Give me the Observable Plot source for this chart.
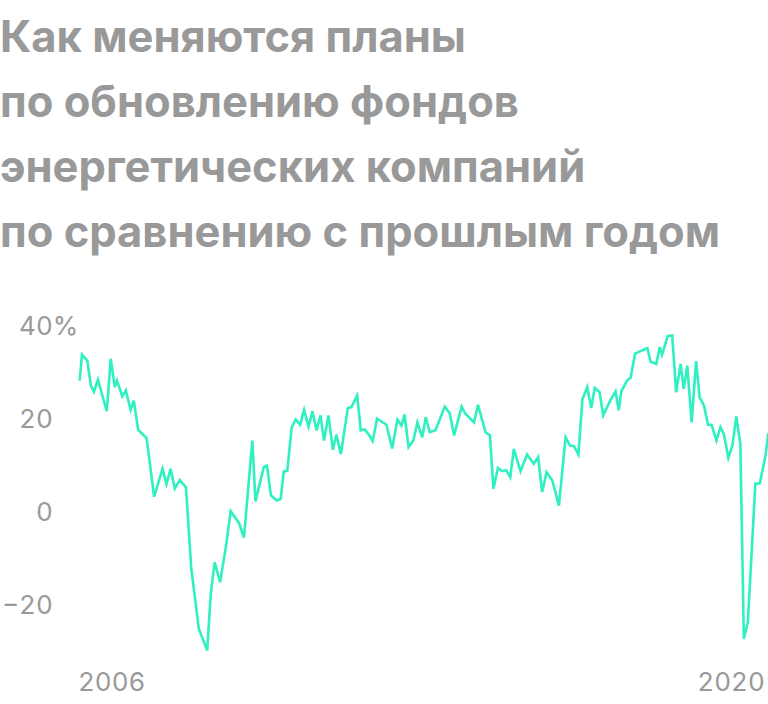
<!DOCTYPE html>
<html>
<head>
<meta charset="utf-8">
<script src="https://cdn.jsdelivr.net/npm/d3@7"></script>
<script src="https://cdn.jsdelivr.net/npm/@observablehq/plot@0.6"></script>
<style>
  html, body { margin: 0; padding: 0; background: #fff; }
  #title {
    height: 270px; box-sizing: border-box; padding-top: 4px;
    font-family: Inter, Roboto, "Noto Sans", sans-serif; font-weight: 700;
    font-size: 43.5px; line-height: 65px; color: #999; white-space: nowrap;
  }
</style>
</head>
<body>
<div id="title">Как меняются планы<br>по обновлению фондов<br>энергетических компаний<br>по сравнению с прошлым годом</div>
<div id="chart"></div>
<script>
// time (fractional year) and year-over-year change, %
const years = [
  2005.28, 2005.33, 2005.45, 2005.53, 2005.60, 2005.69, 2005.89, 2005.98, 2006.07, 2006.12,
  2006.24, 2006.32, 2006.43, 2006.50, 2006.60, 2006.79, 2006.96, 2007.15, 2007.24, 2007.33,
  2007.43, 2007.54, 2007.68, 2007.80, 2007.97, 2008.16, 2008.24, 2008.33, 2008.45, 2008.58,
  2008.69, 2008.88, 2008.99, 2009.18, 2009.25, 2009.44, 2009.51, 2009.60, 2009.73, 2009.82,
  2009.89, 2009.97, 2010.07, 2010.16, 2010.26, 2010.35, 2010.45, 2010.54, 2010.63, 2010.72,
  2010.80, 2010.90, 2011.00, 2011.08, 2011.18, 2011.34, 2011.42, 2011.55, 2011.63, 2011.72,
  2011.81, 2011.90, 2012.00, 2012.21, 2012.34, 2012.46, 2012.55, 2012.62, 2012.71, 2012.82,
  2012.91, 2013.02, 2013.10, 2013.19, 2013.32, 2013.53, 2013.64, 2013.74, 2013.91, 2014.00,
  2014.19, 2014.28, 2014.45, 2014.55, 2014.63, 2014.73, 2014.83, 2014.92, 2015.01, 2015.09,
  2015.24, 2015.39, 2015.54, 2015.64, 2015.73, 2015.83, 2015.96, 2016.11, 2016.26, 2016.36,
  2016.45, 2016.55, 2016.64, 2016.75, 2016.84, 2016.92, 2017.03, 2017.11, 2017.28, 2017.39,
  2017.46, 2017.52, 2017.65, 2017.73, 2017.83, 2018.11, 2018.18, 2018.31, 2018.39, 2018.44,
  2018.57, 2018.67, 2018.76, 2018.86, 2018.93, 2019.01, 2019.11, 2019.21, 2019.29, 2019.39,
  2019.48, 2019.56, 2019.67, 2019.76, 2019.84, 2019.94, 2020.03, 2020.12, 2020.21, 2020.29,
  2020.38, 2020.55, 2020.65, 2020.78, 2020.84
];
const values = [
  28.6, 34.0, 32.7, 27.3, 26.0, 28.6, 21.8, 33.1, 27.0, 28.4,
  25.0, 26.3, 22.1, 24.1, 17.8, 16.0, 3.4, 9.4, 6.1, 9.4,
  5.2, 7.0, 5.4, -12.1, -25.0, -29.7, -17.5, -10.7, -15.0, -7.5,
  0.3, -2.3, -5.4, 15.5, 2.4, 9.8, 10.1, 3.7, 2.6, 2.9,
  8.8, 9.0, 18.4, 20.0, 18.9, 22.1, 18.5, 21.8, 17.7, 20.9,
  15.5, 20.9, 13.5, 16.8, 12.6, 22.5, 22.7, 25.2, 17.7, 17.9,
  16.8, 15.4, 20.2, 18.9, 13.8, 20.0, 18.7, 21.1, 14.1, 15.5,
  19.4, 16.2, 20.5, 17.3, 17.7, 22.8, 21.4, 16.6, 22.8, 21.2,
  19.4, 23.2, 17.3, 16.6, 5.1, 9.6, 8.9, 9.1, 7.6, 13.7,
  8.9, 12.5, 10.5, 11.9, 4.4, 8.7, 6.9, 1.5, 16.2, 14.4,
  14.3, 12.5, 24.3, 27.0, 22.5, 26.8, 25.9, 20.9, 24.3, 26.1,
  22.0, 26.1, 28.4, 29.0, 34.2, 35.4, 32.5, 32.0, 35.6, 34.0,
  38.0, 38.1, 25.9, 32.0, 26.6, 31.6, 19.4, 32.6, 24.8, 23.0,
  18.9, 18.9, 15.5, 18.4, 16.8, 11.8, 14.4, 20.7, 14.8, -27.2,
  -23.6, 6.2, 6.3, 12.3, 16.9
];
const yTicks = [-20, 0, 20, 40];
const xTicks = [2006, 2020];

const data = years.map((t, i) => ({t, v: values[i]}));

const chart = Plot.plot({
  width: 768,
  height: 434,
  marginLeft: 79.3,
  marginRight: 0.3,
  marginTop: 56.2,
  marginBottom: 52.6,
  style: {fontFamily: "Inter, Roboto, 'Noto Sans', sans-serif", fontSize: "26px", color: "#999", overflow: "visible", background: "#fff"},
  x: {domain: [2005.28, 2020.84], label: null},
  y: {domain: [-30, 40], label: null},
  marks: [
    Plot.axisY({ticks: yTicks, tickSize: 0, tickPadding: 27, fontSize: 26, label: null,
      tickFormat: d => d < 0 ? "\u2212" + (-d) : String(d)}),
    Plot.text([40], {y: d => d, frameAnchor: "left", dx: -27, textAnchor: "start", text: () => "%", fontSize: 26, fill: "#999"}),
    Plot.axisX({ticks: xTicks, tickSize: 0, tickPadding: 21, fontSize: 26, label: null,
      tickFormat: d => String(d)}),
    Plot.line(data, {x: "t", y: "v", stroke: "#2ef0c0", strokeWidth: 2.6, strokeLinejoin: "miter", strokeMiterlimit: 4})
  ]
});
document.getElementById("chart").appendChild(chart);
</script>
</body>
</html>
